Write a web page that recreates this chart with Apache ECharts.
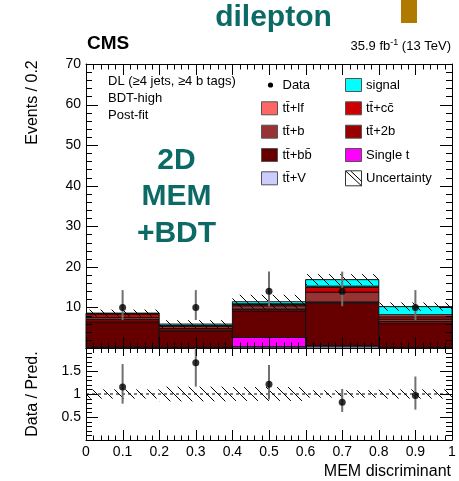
<!DOCTYPE html>
<html>
<head>
<meta charset="utf-8">
<script src="https://cdn.jsdelivr.net/npm/echarts@6/dist/echarts.min.js"></script>
<style>
  html, body { margin: 0; padding: 0; background: #fff; }
  #chart { width: 459px; height: 481px; }
</style>
</head>
<body>
<div id="chart"></div>
<script>
// MEM discriminant binning (5 bins of width 0.2)
const binEdges = [0, 0.2, 0.4, 0.6, 0.8, 1.0];
const binCenters = [0.1, 0.3, 0.5, 0.7, 0.9];

// Post-fit expected yields per bin, stacked bottom to top
const ttV     = [0.05, 0.05, 0.3, 0.5, 0.05];
const singleT = [0.15, 0.1, 2.3, 0.05, 0.1];
const ttbb    = [6.2, 4.1, 6.5, 10.5, 5.85];
const tt2b    = [0.6, 0.55, 0.5, 0.3, 0.55];
const ttb     = [0.5, 0.6, 0.8, 2.4, 0.55];
const ttcc    = [0.8, 0.1, 0.3, 1.2, 0.6];
const ttlf    = [0.2, 0.05, 0.2, 0.3, 0.5];
const signal  = [0.1, 0.35, 0.5, 1.6, 2.0];

// Relative post-fit uncertainty per bin
const relUnc = [0.10, 0.16, 0.15, 0.08, 0.10];

// Observed data with asymmetric Poisson errors
const dataCounts = [10, 10, 14, 14, 10];
const dataErrUp  = [4.27, 4.27, 4.83, 4.83, 4.27];
const dataErrDn  = [3.11, 3.11, 3.70, 3.70, 3.11];

// Data / prediction ratio with its error bar limits
const ratioVals = [1.15, 1.68, 1.21, 0.82, 0.97];
const ratioHi   = [1.65, 2.40, 1.63, 1.11, 1.38];
const ratioLo   = [0.79, 1.16, 0.88, 0.61, 0.66];

// Tick labels
const yTicksMain  = [10, 20, 30, 40, 50, 60, 70];
const yTicksRatio = [0.5, 1, 1.5];

const FONT = '"Liberation Sans", Arial, Helvetica, sans-serif';
const TEAL = '#0b6a66';

const binLo = binEdges.slice(0, -1);
const binHi = binEdges.slice(1);

// Stack components: name, values, fill colour
const components = [
  { name: 'tt\u0304+V',          values: ttV,     color: '#ccccff' },
  { name: 'Single t',            values: singleT, color: '#ff00ff' },
  { name: 'tt\u0304+bb\u0304',   values: ttbb,    color: '#660000' },
  { name: 'tt\u0304+2b',         values: tt2b,    color: '#990000' },
  { name: 'tt\u0304+b',          values: ttb,     color: '#993333' },
  { name: 'tt\u0304+cc\u0304',   values: ttcc,    color: '#cc0000' },
  { name: 'tt\u0304+lf',         values: ttlf,    color: '#ff6666' },
  { name: 'signal',              values: signal,  color: '#00ffff' }
];

function rectItem(api, style) {
  const a = api.coord([api.value(0), api.value(3)]);
  const b = api.coord([api.value(1), api.value(2)]);
  return {
    type: 'rect',
    shape: { x: a[0], y: a[1], width: b[0] - a[0], height: b[1] - a[1] },
    style: style
  };
}

// Diagonal "\" hatch lines clipped to the band rectangle
function hatchItem(api, spacing) {
  const a = api.coord([api.value(0), api.value(3)]);
  const b = api.coord([api.value(1), api.value(2)]);
  const x0 = a[0], y0 = a[1], x1 = b[0], y1 = b[1];
  const children = [];
  const cStart = Math.ceil((y0 - x1) / spacing) * spacing;
  for (let c = cStart; c <= y1 - x0; c += spacing) {
    const xs = Math.max(x0, y0 - c);
    const xe = Math.min(x1, y1 - c);
    if (xe > xs) {
      children.push({
        type: 'line',
        shape: { x1: xs, y1: xs + c, x2: xe, y2: xe + c },
        style: { stroke: '#000', lineWidth: 1, fill: null }
      });
    }
  }
  return { type: 'group', children: children };
}

const series = [];
const totals = binCenters.map(() => 0);

components.forEach((comp) => {
  const rows = comp.values.map((v, i) => {
    const base = totals[i];
    totals[i] += v;
    return [binLo[i], binHi[i], base, base + v];
  });
  series.push({
    type: 'custom', name: comp.name,
    xAxisIndex: 0, yAxisIndex: 0, z: 2,
    data: rows,
    encode: { x: [0, 1], y: [2, 3] },
    renderItem: (params, api) => rectItem(api, { fill: comp.color, stroke: '#111', lineWidth: 1 })
  });
});

// Uncertainty band on the stack
series.push({
  type: 'custom', name: 'Uncertainty',
  xAxisIndex: 0, yAxisIndex: 0, z: 3,
  data: totals.map((t, i) => [binLo[i], binHi[i], t * (1 - relUnc[i]), t * (1 + relUnc[i])]),
  encode: { x: [0, 1], y: [2, 3] },
  renderItem: (params, api) => hatchItem(api, 11)
});

function errorBarSeries(xIdx, yIdx, rows) {
  return {
    type: 'custom', xAxisIndex: xIdx, yAxisIndex: yIdx, z: 4,
    data: rows,
    encode: { x: 0, y: [1, 2] },
    renderItem: (params, api) => {
      const cs = params.coordSys;
      const t = api.coord([api.value(0), api.value(2)]);
      const b = api.coord([api.value(0), api.value(1)]);
      const y1 = Math.max(cs.y, Math.min(cs.y + cs.height, t[1]));
      const y2 = Math.max(cs.y, Math.min(cs.y + cs.height, b[1]));
      return {
        type: 'line',
        shape: { x1: t[0], y1: y1, x2: b[0], y2: y2 },
        style: { stroke: '#707070', lineWidth: 2 }
      };
    }
  };
}

// Data error bars and points
series.push(errorBarSeries(0, 0, binCenters.map((x, i) => [x, dataCounts[i] - dataErrDn[i], dataCounts[i] + dataErrUp[i]])));
series.push({
  type: 'scatter', name: 'Data', xAxisIndex: 0, yAxisIndex: 0, z: 5,
  symbol: 'circle', symbolSize: 7,
  itemStyle: { color: '#000' },
  data: binCenters.map((x, i) => [x, dataCounts[i]])
});

// Ratio panel: uncertainty band, unity line, ratio points
series.push({
  type: 'custom', xAxisIndex: 2, yAxisIndex: 2, z: 2,
  data: relUnc.map((u, i) => [binLo[i], binHi[i], 1 - u, 1 + u]),
  encode: { x: [0, 1], y: [2, 3] },
  renderItem: (params, api) => hatchItem(api, 11)
});
series.push({
  type: 'line', xAxisIndex: 2, yAxisIndex: 2, z: 3,
  symbol: 'none', silent: true,
  lineStyle: { color: '#000', width: 1, type: [3, 3] },
  data: [[0, 1], [1, 1]]
});
series.push(errorBarSeries(2, 2, binCenters.map((x, i) => [x, ratioLo[i], ratioHi[i]])));
series.push({
  type: 'scatter', xAxisIndex: 2, yAxisIndex: 2, z: 5,
  symbol: 'circle', symbolSize: 7,
  itemStyle: { color: '#000' },
  data: binCenters.map((x, i) => [x, ratioVals[i]])
});

// Frame ticks (major + 4 minor per division) on all four sides, drawn inward
function tickList(min, max, step, sub) {
  const out = [];
  const n = Math.round((max - min) / step * sub);
  for (let k = 0; k <= n; k++) out.push([min + k * step / sub, k % sub === 0 ? 1 : 0]);
  return out;
}
function tickLine(x1, y1, x2, y2) {
  return { type: 'line', shape: { x1, y1, x2, y2 }, style: { stroke: '#000', lineWidth: 1, fill: null } };
}

function xTickSeries(xIdx, yIdx, bottomLen, topLen) {
  return {
    type: 'custom', xAxisIndex: xIdx, yAxisIndex: yIdx, z: 6, silent: true,
    data: tickList(0, 1, 0.1, 5).map(([v, m]) => [v, 0, m]),
    encode: { x: 0, y: 1 },
    renderItem: (params, api) => {
      const cs = params.coordSys;
      const px = Math.round(api.coord([api.value(0), 0])[0]) + 0.5;
      const major = api.value(2) === 1;
      const lb = major ? bottomLen[0] : bottomLen[1];
      const lt = major ? topLen[0] : topLen[1];
      const yb = cs.y + cs.height;
      const yt = cs.y;
      return {
        type: 'group',
        children: [tickLine(px, yb, px, yb - lb), tickLine(px, yt, px, yt + lt)]
      };
    }
  };
}

function yTickSeries(xIdx, yIdx, min, max, step, lens) {
  return {
    type: 'custom', xAxisIndex: xIdx, yAxisIndex: yIdx, z: 6, silent: true,
    data: tickList(min, max, step, 5).map(([v, m]) => [0, v, m]),
    encode: { x: 0, y: 1 },
    renderItem: (params, api) => {
      const cs = params.coordSys;
      const py = Math.round(api.coord([0, api.value(1)])[1]) + 0.5;
      const len = api.value(2) === 1 ? lens[0] : lens[1];
      const xl = cs.x;
      const xr = cs.x + cs.width;
      return {
        type: 'group',
        children: [tickLine(xl, py, xl + len, py), tickLine(xr, py, xr - len, py)]
      };
    }
  };
}

series.push(xTickSeries(0, 0, [11, 5.5], [11, 5.5]));
series.push(yTickSeries(0, 0, 0, 70, 10, [12, 6]));
series.push(xTickSeries(2, 2, [10, 4.5], [8, 5]));
series.push(yTickSeries(2, 2, 0, 2, 0.5, [12, 6]));

function xAxisDef(gridIndex, position, showLabels) {
  return {
    type: 'value', gridIndex, position, min: 0, max: 1, interval: 0.1,
    axisLine: { show: true, onZero: false, lineStyle: { color: '#000', width: 1 } },
    axisTick: { show: false },
    minorTick: { show: false },
    splitLine: { show: false },
    axisLabel: showLabels
      ? { show: true, fontFamily: FONT, fontSize: 14, color: '#000', margin: 5 }
      : { show: false }
  };
}

function yAxisDef(gridIndex, position, min, max, interval, ticks, showLabels) {
  return {
    type: 'value', gridIndex, position, min, max, interval,
    axisLine: { show: true, onZero: false, lineStyle: { color: '#000', width: 1 } },
    axisTick: { show: false },
    minorTick: { show: false },
    splitLine: { show: false },
    axisLabel: showLabels
      ? {
          show: true, fontFamily: FONT, fontSize: 14, color: '#000', margin: 5,
          formatter: (v) => (ticks.some((t) => Math.abs(t - v) < 1e-9) ? String(v) : '')
        }
      : { show: false }
  };
}

// Legend drawn as graphic elements in two columns
const legendRows = [85, 108.3, 131.7, 155, 178.3];
const legendCols = [{ box: 261, text: 282.5 }, { box: 345, text: 366 }];
const colorOf = {};
components.forEach((c) => { colorOf[c.name] = c.color; });
const legendEntries = [
  { col: 0, row: 0, name: 'Data', kind: 'dot' },
  { col: 1, row: 0, name: 'signal', kind: 'box' },
  { col: 0, row: 1, name: 'tt\u0304+lf', kind: 'box' },
  { col: 1, row: 1, name: 'tt\u0304+cc\u0304', kind: 'box' },
  { col: 0, row: 2, name: 'tt\u0304+b', kind: 'box' },
  { col: 1, row: 2, name: 'tt\u0304+2b', kind: 'box' },
  { col: 0, row: 3, name: 'tt\u0304+bb\u0304', kind: 'box' },
  { col: 1, row: 3, name: 'Single t', kind: 'box' },
  { col: 0, row: 4, name: 'tt\u0304+V', kind: 'box' },
  { col: 1, row: 4, name: 'Uncertainty', kind: 'hatch' }
];

const graphics = [];
legendEntries.forEach((e) => {
  const col = legendCols[e.col];
  const cy = legendRows[e.row];
  if (e.kind === 'dot') {
    graphics.push({ type: 'circle', shape: { cx: col.box + 9.5, cy: cy, r: 2.6 }, style: { fill: '#000' } });
  } else if (e.kind === 'box') {
    graphics.push({ type: 'rect', shape: { x: col.box + 0.5, y: cy - 6.5, width: 16, height: 13 },
      style: { fill: colorOf[e.name], stroke: '#555', lineWidth: 1 } });
  } else {
    graphics.push({ type: 'rect', shape: { x: col.box + 0.5, y: cy - 7.5, width: 16, height: 15 },
      style: { fill: '#fff', stroke: '#333', lineWidth: 1 } });
    graphics.push({ type: 'line', shape: { x1: col.box + 1, y1: cy - 7, x2: col.box + 16.5, y2: cy + 7.5 },
      style: { stroke: '#000', lineWidth: 1 } });
    graphics.push({ type: 'line', shape: { x1: col.box + 6, y1: cy - 7, x2: col.box + 16.5, y2: cy + 3 },
      style: { stroke: '#000', lineWidth: 1 } });
  }
  graphics.push({ type: 'text', x: col.text, y: cy,
    style: { text: e.name, font: '13px ' + FONT, fill: '#000', align: 'left', verticalAlign: 'middle' } });
});

// Headline and annotations
graphics.push(
  { type: 'text', x: 273.5, y: 17.5,
    style: { text: 'dilepton', font: 'bold 30px ' + FONT, fill: TEAL, align: 'center', verticalAlign: 'middle' } },
  { type: 'rect', shape: { x: 401, y: 0, width: 16, height: 23 }, style: { fill: '#b07a00' } },
  { type: 'text', x: 87, y: 43.5,
    style: { text: 'CMS', font: 'bold 19px ' + FONT, fill: '#000', align: 'left', verticalAlign: 'middle' } },
  { type: 'text', x: 451, y: 45.5,
    style: {
      text: '{n|35.9 fb}{s|-1}{n| (13 TeV)}',
      align: 'right', verticalAlign: 'middle',
      rich: {
        n: { font: '13px ' + FONT, fill: '#000', lineHeight: 15, verticalAlign: 'bottom' },
        s: { font: '9px ' + FONT, fill: '#000', lineHeight: 15, verticalAlign: 'top' }
      }
    } },
  { type: 'text', x: 108, y: 81,
    style: { text: 'DL (\u22654 jets, \u22654 b tags)', font: '13px ' + FONT, fill: '#000', verticalAlign: 'middle' } },
  { type: 'text', x: 108, y: 98,
    style: { text: 'BDT-high', font: '13px ' + FONT, fill: '#000', verticalAlign: 'middle' } },
  { type: 'text', x: 108, y: 115,
    style: { text: 'Post-fit', font: '13px ' + FONT, fill: '#000', verticalAlign: 'middle' } },
  { type: 'text', x: 176.5, y: 161,
    style: { text: '2D', font: 'bold 30px ' + FONT, fill: TEAL, align: 'center', verticalAlign: 'middle' } },
  { type: 'text', x: 176.5, y: 196.5,
    style: { text: 'MEM', font: 'bold 30px ' + FONT, fill: TEAL, align: 'center', verticalAlign: 'middle' } },
  { type: 'text', x: 176.5, y: 234,
    style: { text: '+BDT', font: 'bold 30px ' + FONT, fill: TEAL, align: 'center', verticalAlign: 'middle' } },
  // Axis titles
  { type: 'text', x: 33, y: 102.5, rotation: Math.PI / 2,
    style: { text: 'Events / 0.2', font: '16px ' + FONT, fill: '#000', align: 'center', verticalAlign: 'middle' } },
  { type: 'text', x: 33, y: 394, rotation: Math.PI / 2,
    style: { text: 'Data / Pred.', font: '16px ' + FONT, fill: '#000', align: 'center', verticalAlign: 'middle' } },
  { type: 'text', x: 451, y: 471.5,
    style: { text: 'MEM discriminant', font: '16px ' + FONT, fill: '#000', align: 'right', verticalAlign: 'middle' } }
);
// Annotations sit above the axes and series
graphics.forEach((g) => { g.z = 20; });

const option = {
  animation: false,
  backgroundColor: '#fff',
  textStyle: { fontFamily: FONT },
  grid: [
    { left: 86, right: 7, top: 64, height: 284, containLabel: false },
    { left: 86, right: 7, top: 348, height: 92, containLabel: false }
  ],
  xAxis: [
    xAxisDef(0, 'bottom', false),
    xAxisDef(0, 'top', false),
    xAxisDef(1, 'bottom', true),
    xAxisDef(1, 'top', false)
  ],
  yAxis: [
    yAxisDef(0, 'left', 0, 70, 10, yTicksMain, true),
    yAxisDef(0, 'right', 0, 70, 10, yTicksMain, false),
    yAxisDef(1, 'left', 0, 2, 0.5, yTicksRatio, true),
    yAxisDef(1, 'right', 0, 2, 0.5, yTicksRatio, false)
  ],
  series: series,
  graphic: graphics
};

const chart = echarts.init(document.getElementById('chart'), null, { renderer: 'canvas' });
chart.setOption(option);
</script>
</body>
</html>
